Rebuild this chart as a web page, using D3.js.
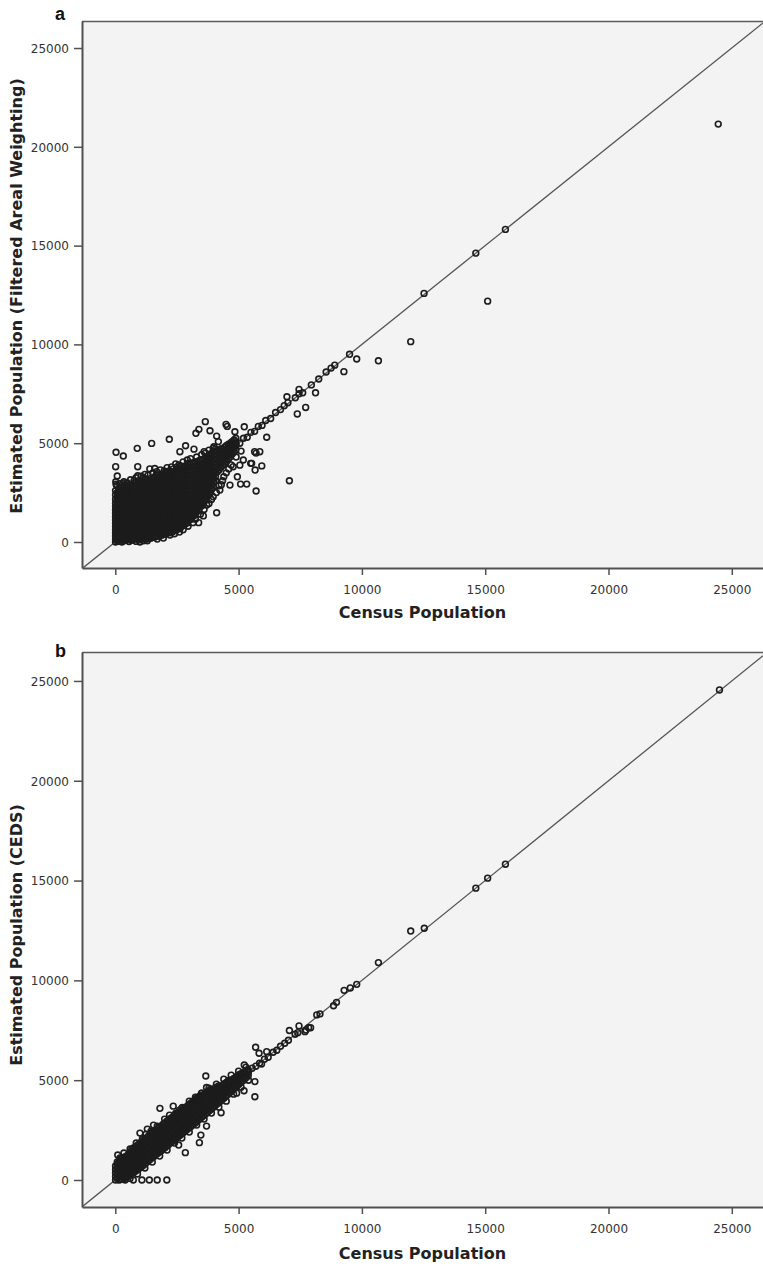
<!DOCTYPE html>
<html><head><meta charset="utf-8">
<script src="https://cdn.jsdelivr.net/npm/d3@7"></script>
<style>body{margin:0;background:#fff}svg{display:block}</style>
</head><body>
<svg id="chart" width="763" height="1266"></svg>
<script>
// ---------- DATA ----------
const xTicks = [0, 5000, 10000, 15000, 20000, 25000];
const yTicks = [0, 5000, 10000, 15000, 20000, 25000];
const xTitle = "Census Population";
const yTitleA = "Estimated Population (Filtered Areal Weighting)";
const yTitleB = "Estimated Population (CEDS)";
const panelLabels = ["a", "b"];

// Panel a: dense cloud, listed per census value: [census, [estimated values]]
const blobA = [
[10,[0,130,300,450,620,780,950,1110,1280,1460,1620,1790,1960,2150,2380,2600]],
[130,[40,210,360,540,690,870,1030,1200,1390,1550,1720,1900,2070,2260,2480,2690]],
[270,[0,150,290,470,630,800,960,1140,1300,1470,1650,1810,1990,2170,2350,2540,2760]],
[410,[70,240,410,570,740,910,1080,1250,1420,1590,1770,1940,2120,2300,2470,2670,2870]],
[560,[20,180,350,520,690,850,1020,1200,1370,1540,1710,1890,2060,2240,2420,2610,2810]],
[700,[100,270,430,600,770,940,1110,1280,1450,1620,1800,1970,2150,2330,2510,2700,2900]],
[850,[30,190,360,530,710,870,1050,1210,1390,1560,1730,1910,2090,2260,2450,2630,2830,3020]],
[990,[120,290,460,620,800,960,1140,1300,1480,1650,1830,2000,2180,2360,2540,2730,2920,3120]],
[1140,[60,220,400,560,740,900,1080,1250,1420,1600,1770,1950,2120,2300,2480,2670,2860,3060,3250]],
[1290,[150,310,480,650,820,990,1160,1330,1510,1680,1850,2030,2210,2390,2570,2760,2960,3160]],
[1440,[190,360,530,700,870,1040,1210,1390,1560,1730,1910,2090,2260,2440,2630,2820,3010,3220]],
[1590,[240,410,580,750,920,1090,1270,1440,1610,1790,1960,2140,2320,2500,2690,2880,3080,3290]],
[1740,[290,460,630,800,970,1150,1320,1490,1670,1840,2020,2200,2380,2560,2750,2950,3150,3360]],
[1890,[340,510,680,850,1030,1200,1370,1550,1720,1900,2080,2260,2440,2630,2820,3020,3220,3430]],
[2040,[390,560,730,910,1080,1250,1430,1610,1780,1960,2140,2320,2510,2700,2890,3090,3300,3500]],
[2190,[460,630,800,980,1150,1320,1500,1680,1850,2030,2210,2400,2580,2770,2970,3170,3380,3590]],
[2340,[530,700,870,1050,1220,1400,1580,1750,1930,2110,2290,2480,2670,2860,3060,3260,3470,3690]],
[2490,[610,780,960,1130,1310,1480,1660,1840,2020,2200,2390,2580,2770,2960,3160,3370,3580,3790]],
[2640,[710,880,1050,1230,1400,1580,1760,1940,2120,2310,2490,2680,2870,3070,3270,3480,3690,3850]],
[2790,[830,1000,1180,1350,1530,1710,1890,2070,2250,2440,2630,2820,3010,3210,3410,3620,3830]],
[2940,[970,1140,1320,1500,1680,1860,2040,2220,2410,2600,2790,2980,3180,3380,3580,3790,3960]],
[3090,[1160,1330,1510,1690,1870,2050,2230,2420,2610,2800,2990,3190,3390,3590,3800,4000]],
[3240,[1360,1540,1720,1900,2080,2260,2450,2640,2830,3020,3220,3420,3620,3830,4040]],
[3390,[1610,1790,1970,2150,2330,2520,2710,2900,3090,3290,3490,3690,3900,4110]],
[3540,[1860,2040,2220,2400,2590,2780,2970,3160,3360,3560,3760,3970,4180]],
[3690,[2160,2340,2520,2710,2900,3090,3280,3480,3680,3880,4090,4300]],
[3840,[2460,2640,2830,3020,3210,3410,3610,3810,4020,4230,4440]],
[3990,[2810,3000,3190,3380,3580,3780,3980,4180,4390,4600]],
[4140,[3560,3760,3960,4160,4370,4580]],
[4290,[3780,3980,4180,4390,4600,4720]],
[4440,[3980,4180,4390,4600,4810]],
[4590,[4200,4400,4610,4820,4950]],
[4740,[4450,4660,4870,5080]],
[4890,[4650,4860,5070,5250]]
];
const blobAMid = [
[70,[70,220,380,530,700,860,1030,1190,1360,1530,1700,1880,2060,2270,2500]],
[200,[110,270,440,600,770,930,1100,1270,1430,1610,1780,1950,2140,2330,2580,2750]],
[340,[80,230,390,550,720,880,1050,1210,1380,1550,1720,1890,2070,2250,2440,2640,2820]],
[485,[140,310,480,650,820,990,1160,1330,1500,1680,1850,2030,2210,2390,2570,2760]],
[630,[90,260,430,600,770,940,1110,1290,1460,1630,1810,1990,2170,2350,2540,2730,2870]],
[775,[180,350,520,690,860,1030,1200,1370,1540,1720,1890,2070,2250,2430,2610,2800,2980]],
[920,[110,280,450,620,790,960,1130,1300,1480,1650,1830,2010,2190,2370,2560,2750,2960]],
[1065,[200,370,540,720,880,1060,1230,1410,1580,1760,1940,2120,2300,2490,2680,2880,3060]],
[1215,[140,310,480,660,830,1000,1170,1350,1520,1700,1880,2060,2240,2420,2610,2800,3000,3180]],
[1365,[230,400,570,740,910,1080,1260,1430,1610,1790,1970,2150,2330,2510,2700,2900,3100]],
[1515,[270,440,610,780,960,1130,1300,1480,1650,1830,2010,2190,2370,2560,2750,2950,3150]],
[1665,[320,490,660,830,1000,1180,1350,1530,1700,1880,2060,2240,2420,2610,2800,3000,3200,3380]],
[1815,[370,540,710,880,1060,1230,1410,1580,1760,1940,2120,2300,2490,2680,2870,3070,3280]],
[1965,[420,590,770,940,1110,1290,1460,1640,1820,2000,2180,2360,2550,2740,2940,3140,3350]],
[2115,[480,650,820,990,1170,1340,1520,1700,1880,2060,2240,2430,2620,2810,3010,3210,3420,3560]],
[2265,[550,720,890,1060,1240,1410,1590,1770,1950,2130,2320,2500,2690,2880,3080,3290,3500]],
[2415,[630,800,970,1140,1320,1500,1680,1860,2040,2220,2410,2600,2790,2980,3180,3390,3600]],
[2565,[720,890,1060,1240,1410,1590,1770,1950,2140,2320,2510,2700,2890,3090,3290,3500,3700]],
[2715,[830,1000,1170,1350,1530,1710,1890,2070,2260,2450,2640,2830,3030,3230,3430,3640,3800]],
[2865,[960,1130,1310,1490,1670,1850,2030,2220,2410,2600,2790,2990,3190,3390,3600,3810]],
[3015,[1120,1300,1480,1660,1840,2020,2210,2400,2590,2780,2980,3180,3380,3580,3790,3950]],
[3165,[1310,1490,1670,1850,2030,2220,2410,2600,2790,2990,3190,3390,3590,3800,4000]],
[3315,[1540,1720,1900,2090,2280,2470,2660,2850,3050,3250,3450,3650,3860,4070]],
[3465,[1790,1970,2160,2350,2540,2730,2920,3120,3320,3520,3720,3930,4140]],
[3615,[2060,2250,2440,2630,2820,3010,3200,3400,3600,3800,4010,4220]],
[3765,[2360,2550,2740,2930,3120,3320,3520,3720,3920,4130,4340]],
[3915,[2700,2890,3080,3280,3480,3680,3880,4080,4290,4500]],
[4065,[3100,3300,3500,3690,3880,4080,4280,4480,4690]],
[4215,[3660,3860,4060,4260,4470,4660]],
[4365,[3880,4080,4280,4490,4700]],
[4515,[4090,4290,4500,4710,4880]],
[4665,[4320,4530,4740,4950]],
[4815,[4550,4760,4970,5160]]
];
// Panel a: ragged points around the cloud's edge
const edgeA = [
[60,2850],[180,2950],[350,3050],[480,3000],[620,3150],[760,3100],[840,3250],[1050,3330],[1200,3420],
[1330,3380],[1520,3500],[1680,3560],[1830,3650],[1980,3600],[2100,3760],[2280,3800],[2450,3950],
[2580,3900],[2750,4050],[2920,4150],[3050,4220],[3300,4300],[3500,4420],[3650,4500],[3800,4650],
[4000,4820],[1000,0],[1300,60],[1700,150],[1950,200],[2400,420],[2600,500],[2750,620],[2950,800],
[3150,980],[3250,1150],[3450,1400],[3600,1650],[3800,1950],[3900,2150],[4100,2500],[4200,2850],
[4350,3100],[4500,3500],[4700,3900],[4900,4300],[5100,4600]
];

// Panel a: individual points [census, estimated]
const scatterA = [
[30,4540],[325,4350],[15,3810],[80,3340],[30,2920],[20,3050],[890,4740],[1475,4990],[2190,5200],
[910,3810],[1400,3700],[1600,3720],[910,3350],[530,2830],[300,2950],[2850,4870],[3190,4700],
[2620,4570],[3650,6090],[3390,5700],[3270,5500],[3840,5630],[4110,5360],[4180,5080],[4490,5950],
[4540,5850],[4850,5580],[5230,5830],[6140,5300],[3600,4570],[3970,4740],[4240,4320],[4690,5030],
[5190,4150],[5530,3980],[5940,3850],[5650,4570],[5860,4570],[5670,3640],[4780,3810],[5050,3890],
[4950,3300],[5080,2930],[5330,2930],[5710,2580],[7060,3100],[4110,1480],[3380,980],[3570,1320],
[2860,940],[2220,350],[3710,1870],[3970,2290],[4240,2630],[4400,3300],[4600,3700],[4300,2900],
[4650,2880],[5710,4500],[5490,3980],
[4300,4350],[4450,4400],[4600,4650],[4750,4700],[4900,4950],[5050,5000],[5200,5250],[5350,5300],
[5500,5550],[5650,5600],[5800,5850],[5950,5900],[6100,6150],[6300,6250],[6500,6550],[6700,6700],
[6850,6900],[7000,7050],[7300,7300],[7450,7500],[7600,7550],[7950,7950],[8250,8250],[8550,8600],
[8750,8800],[8900,8950],[9500,9500],[12520,12580],[14620,14620],[15820,15820],
[6960,7350],[7380,6480],[7720,6810],[8120,7550],[7450,7720],[9270,8620],[9790,9260],[10670,9170],
[11980,10140],[15100,12190],[24450,21150]
];

// Panel b: dense band, per census value
const blobB = [
[10,[0,170,350,520,700]],
[150,[0,180,360,540,720,890]],
[290,[40,220,400,580,760,940,1080]],
[440,[120,300,480,660,840,1020,1190]],
[590,[250,430,610,790,970,1150,1330]],
[740,[380,560,740,920,1100,1280,1460,1600]],
[890,[500,680,860,1040,1220,1400,1580,1730]],
[1040,[640,820,1000,1180,1360,1540,1720,1880]],
[1190,[790,970,1150,1330,1510,1690,1870,2030]],
[1340,[950,1130,1310,1490,1670,1850,2030,2200]],
[1490,[1110,1290,1470,1650,1830,2010,2190,2360]],
[1640,[1260,1440,1620,1800,1980,2160,2340,2500]],
[1790,[1400,1580,1760,1940,2120,2300,2480,2640]],
[1940,[1550,1730,1910,2090,2270,2450,2630,2790]],
[2090,[1700,1880,2060,2240,2420,2600,2780,2940]],
[2240,[1860,2040,2220,2400,2580,2760,2940,3080]],
[2390,[2010,2190,2370,2550,2730,2910,3080,3210]],
[2540,[2160,2340,2520,2700,2880,3060,3230,3340]],
[2690,[2310,2490,2670,2850,3030,3210,3380,3470]],
[2840,[2460,2640,2820,3000,3180,3360,3530,3620]],
[2990,[2610,2790,2970,3150,3330,3510,3680,3780]],
[3140,[2760,2940,3120,3300,3480,3660,3830,3930]],
[3290,[2910,3090,3270,3450,3630,3810,3980,4080]],
[3440,[3070,3250,3430,3610,3790,3970,4140,4220]],
[3590,[3230,3410,3590,3770,3950,4130,4290]],
[3740,[3390,3570,3750,3930,4110,4290,4420]],
[3890,[3550,3730,3910,4090,4270,4440,4540]],
[4040,[3710,3890,4070,4250,4430,4600]],
[4190,[3870,4050,4230,4410,4580,4710]],
[4340,[4030,4210,4390,4570,4740]],
[4490,[4200,4380,4560,4740,4880]],
[4640,[4370,4550,4730,4900,5000]],
[4790,[4540,4720,4900,5070]],
[4940,[4710,4890,5070,5200]],
[5090,[4880,5060,5230,5330]],
[5240,[5050,5230,5400]],
[5390,[5220,5400,5520]]
];
const blobBMid = [
[80,[90,260,440,610,790]],
[220,[20,200,380,560,740,920,1040]],
[365,[80,260,440,620,800,980,1140]],
[515,[190,370,550,730,910,1090,1260]],
[665,[310,490,670,850,1030,1210,1390,1530]],
[815,[440,620,800,980,1160,1340,1520,1660]],
[965,[570,750,930,1110,1290,1470,1650,1810]],
[1115,[710,890,1070,1250,1430,1610,1790,1950]],
[1265,[870,1050,1230,1410,1590,1770,1950,2110]],
[1415,[1030,1210,1390,1570,1750,1930,2110,2280]],
[1565,[1180,1360,1540,1720,1900,2080,2260,2430]],
[1715,[1330,1510,1690,1870,2050,2230,2410,2570]],
[1865,[1470,1650,1830,2010,2190,2370,2550,2710]],
[2015,[1620,1800,1980,2160,2340,2520,2700,2860]],
[2165,[1780,1960,2140,2320,2500,2680,2860,3010]],
[2315,[1930,2110,2290,2470,2650,2830,3010,3150]],
[2465,[2080,2260,2440,2620,2800,2980,3150,3280]],
[2615,[2230,2410,2590,2770,2950,3130,3300,3400]],
[2765,[2380,2560,2740,2920,3100,3280,3450,3550]],
[2915,[2530,2710,2890,3070,3250,3430,3600,3700]],
[3065,[2680,2860,3040,3220,3400,3580,3750,3850]],
[3215,[2830,3010,3190,3370,3550,3730,3900,4000]],
[3365,[2990,3170,3350,3530,3710,3890,4060,4150]],
[3515,[3150,3330,3510,3690,3870,4050,4220]],
[3665,[3310,3490,3670,3850,4030,4210,4350]],
[3815,[3470,3650,3830,4010,4190,4360,4480]],
[3965,[3630,3810,3990,4170,4350,4520]],
[4115,[3790,3970,4150,4330,4500,4650]],
[4265,[3950,4130,4310,4490,4660]],
[4415,[4110,4290,4470,4650,4810]],
[4565,[4280,4460,4640,4820,4950]],
[4715,[4450,4630,4810,4980]],
[4865,[4620,4800,4980,5130]],
[5015,[4790,4970,5140,5270]],
[5165,[4960,5140,5310]],
[5315,[5130,5310,5460]]
];
// Panel b: ragged points around the band's edge
const edgeB = [
[100,1250],[350,1350],[600,1550],[850,1850],[1100,2050],[1250,2300],[1450,2450],[1700,2700],
[2000,3050],[2200,3250],[2450,3350],[2700,3600],[3000,3950],[3250,4150],[3500,4350],[3800,4600],
[4100,4800],[4400,5050],[4700,5250],[5000,5450],[5300,5650],
[400,0],[600,80],[900,300],[1200,600],[1500,900],[1800,1200],[2100,1500],[2400,1850],[2700,2100],
[3000,2400],[3300,2750],[3600,3050],[3900,3350],[4200,3650],[4500,3950],[4800,4300],[5100,4650],[5400,5000]
];

const scatterB = [
[1810,3590],[2350,3700],[2720,3640],[2600,3500],[3670,5210],[3700,4630],[3510,4350],[4290,3370],
[3410,1870],[3470,2250],[3700,2700],[2840,1370],[2570,1750],[730,0],[1080,0],[1380,0],[1700,0],
[2090,0],[5230,5760],[5690,6650],[5830,6350],[6140,6430],[5660,4930],[5660,4170],[5220,4470],
[4920,4350],[190,1100],[80,900],[1300,2550],[1000,2350],[1550,2750],
[5400,5400],[5550,5600],[5700,5700],[5850,5850],[5930,5810],[6050,6050],[6200,6150],[6400,6400],
[6550,6500],[6700,6700],[6870,6850],[7020,7000],[7290,7300],[7400,7380],[7690,7430],[7840,7630],
[8170,8270],[8300,8320],[8850,8730],[8970,8900],[9280,9500],[9530,9620],[9790,9800],[12530,12610],
[14620,14620],[15100,15120],[15820,15820],[24500,24550],
[11980,12470],[10670,10890],[7920,7630],[7730,7510],[7450,7720],[7060,7490]
];

// ---------- DRAWING ----------
const W = 763;
const svg = d3.select('#chart');
const PL = 82;

function drawPanel(o) {
  const x = d3.scaleLinear().domain(o.xDomain).range([PL, W]);
  const y = d3.scaleLinear().domain(o.yDomain).range([o.bottom, o.top]);
  const g = svg.append('g');
  const clipId = 'clip-' + o.id;
  svg.append('clipPath').attr('id', clipId).append('rect')
    .attr('x', PL).attr('y', o.top).attr('width', W - PL).attr('height', o.bottom - o.top);

  g.append('rect').attr('x', PL).attr('y', o.top).attr('width', W - PL + 2)
    .attr('height', o.bottom - o.top).attr('fill', '#f3f3f3');

  // identity line
  const d0 = o.xDomain[0], d1 = o.xDomain[1];
  g.append('line').attr('clip-path', `url(#${clipId})`)
    .attr('x1', x(d0)).attr('y1', y(d0)).attr('x2', x(d1)).attr('y2', y(d1))
    .attr('stroke', '#555').attr('stroke-width', 1.3);

  const pts = o.blobs.flatMap(b => b.flatMap(([c, es]) => es.map(e => [c, e])))
    .concat(o.edge, o.scatter);
  g.append('g').attr('clip-path', `url(#${clipId})`)
    .selectAll('circle').data(pts).join('circle')
    .attr('cx', d => x(d[0])).attr('cy', d => y(d[1]))
    .attr('r', 2.9).attr('fill', 'none').attr('stroke', '#1c1c1c').attr('stroke-width', 1.6);

  // top border
  g.append('line').attr('x1', PL).attr('x2', W).attr('y1', o.top + 0.5).attr('y2', o.top + 0.5)
    .attr('stroke', '#5a5a5a').attr('stroke-width', 1.3);

  // x axis
  const gx = g.append('g').attr('transform', `translate(0,${o.bottom})`)
    .call(d3.axisBottom(x).tickValues(xTicks).tickSize(7).tickSizeOuter(0).tickFormat(d3.format('d')));
  gx.select('.domain').attr('stroke', '#505050').attr('stroke-width', 2);
  gx.selectAll('.tick line').attr('stroke', '#505050').attr('stroke-width', 1.5);
  gx.selectAll('.tick text').attr('y', 26).attr('dy', 0)
    .attr('font-family', 'DejaVu Sans').attr('font-size', 12).attr('fill', '#333');

  // y axis
  const gy = g.append('g').attr('transform', `translate(${PL},0)`)
    .call(d3.axisLeft(y).tickValues(yTicks).tickSize(8).tickSizeOuter(0).tickFormat(d3.format('d')));
  gy.select('.domain').attr('stroke', '#505050').attr('stroke-width', 2);
  gy.selectAll('.tick line').attr('stroke', '#505050').attr('stroke-width', 1.5);
  gy.selectAll('.tick text').attr('x', -13).attr('dy', '0.36em')
    .attr('font-family', 'DejaVu Sans').attr('font-size', 12).attr('fill', '#333');

  // titles
  g.append('text').attr('x', (PL + W) / 2).attr('y', o.xTitleY).attr('text-anchor', 'middle')
    .attr('font-family', 'DejaVu Sans').attr('font-weight', 'bold').attr('font-size', 16)
    .attr('fill', '#222').text(xTitle);
  g.append('text').attr('transform', `translate(22,${o.yTitleCy}) rotate(-90)`)
    .attr('text-anchor', 'middle')
    .attr('font-family', 'DejaVu Sans').attr('font-weight', 'bold').attr('font-size', 16)
    .attr('fill', '#222').text(o.yTitle);
  g.append('text').attr('x', 55).attr('y', o.labelY)
    .attr('font-family', 'Liberation Sans, Arial, sans-serif').attr('font-weight', 'bold').attr('font-size', 18)
    .attr('fill', '#111').text(o.label);
}

drawPanel({id: 'a', top: 21, bottom: 568, xDomain: [-1350, 26265], yDomain: [-1316, 26367],
  blobs: [blobA, blobAMid], edge: edgeA, scatter: scatterA, yTitle: yTitleA, xTitleY: 618, yTitleCy: 296, labelY: 20, label: panelLabels[0]});
drawPanel({id: 'b', top: 652, bottom: 1207, xDomain: [-1350, 26265], yDomain: [-1353, 26450],
  blobs: [blobB, blobBMid], edge: edgeB, scatter: scatterB, yTitle: yTitleB, xTitleY: 1259, yTitleCy: 935, labelY: 657, label: panelLabels[1]});
</script>
</body></html>
